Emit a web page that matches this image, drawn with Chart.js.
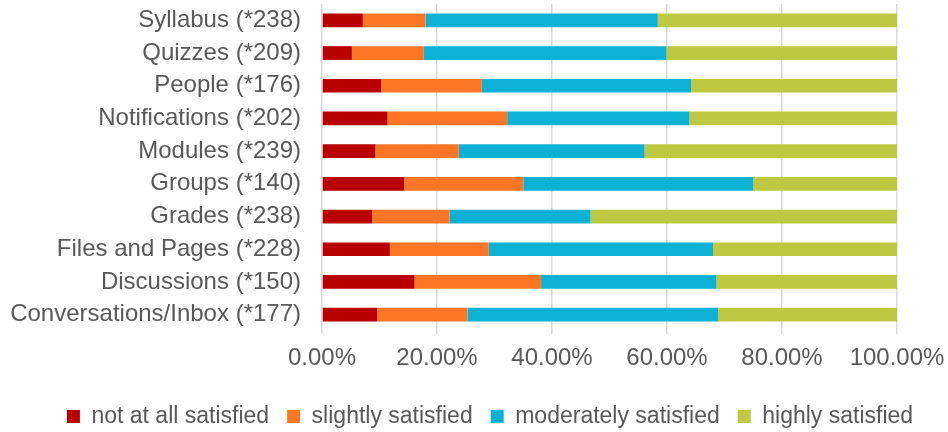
<!DOCTYPE html>
<html>
<head>
<meta charset="utf-8">
<script src="https://cdn.jsdelivr.net/npm/chart.js@4/dist/chart.umd.min.js"></script>
<style>
  html, body { margin: 0; padding: 0; background: #ffffff; }
  #wrap { width: 948px; height: 432px; position: relative; }
</style>
</head>
<body>
<div id="wrap"><canvas id="c"></canvas></div>
<script>
const categories = [
  "Syllabus (*238)", "Quizzes (*209)", "People (*176)", "Notifications (*202)",
  "Modules (*239)", "Groups (*140)", "Grades (*238)", "Files and Pages (*228)",
  "Discussions (*150)", "Conversations/Inbox (*177)"
];
const seriesNames = ["not at all satisfied", "slightly satisfied", "moderately satisfied", "highly satisfied"];
const notAtAll   = [7.1, 5.2, 10.3, 11.4, 9.3, 14.3, 8.7, 11.8, 16.1, 9.6];
const slightly   = [10.9, 12.5, 17.5, 20.8, 14.5, 20.7, 13.5, 17.2, 22.0, 15.7];
const moderately = [40.4, 42.2, 36.4, 31.7, 32.3, 40.0, 24.5, 39.0, 30.5, 43.6];
const highly     = [41.6, 40.1, 35.8, 36.1, 43.9, 25.0, 53.3, 32.0, 31.4, 31.1];
const xTicks = [0, 20, 40, 60, 80, 100];

const colors = ["#b80000", "#fd7626", "#0db1d3", "#bfc842"];
const seriesData = [notAtAll, slightly, moderately, highly];

const FONT = "'Liberation Sans', Arial, sans-serif";
const TEXT = "#595959";

const legendShift = {
  id: "legendShift",
  afterLayout(chart) {
    const lg = chart.legend;
    if (lg) { lg.left += 16; lg.right += 16; lg.top += 10; lg.bottom += 10; }
  }
};

new Chart(document.getElementById("c"), {
  type: "bar",
  data: {
    labels: categories,
    datasets: seriesNames.map((n, i) => ({
      label: n,
      data: seriesData[i],
      backgroundColor: colors[i],
      borderWidth: 0,
      barPercentage: 1.0,
      categoryPercentage: 0.42
    }))
  },
  options: {
    indexAxis: "y",
    responsive: true,
    maintainAspectRatio: false,
    animation: false,
    layout: { padding: { left: 0, right: 0, top: 4, bottom: 4 } },
    scales: {
      x: {
        stacked: true,
        min: 0, max: 100,
        afterBuildTicks: (s) => { s.ticks = xTicks.map(v => ({ value: v })); },
        ticks: {
          callback: (v) => v.toFixed(2) + "%",
          color: TEXT,
          font: { family: FONT, size: 24 },
          padding: 10,
          maxRotation: 0,
          autoSkip: false
        },
        grid: { color: "#d9d9d9", lineWidth: 1.5, drawTicks: true, tickLength: 3 },
        border: { display: false },
        afterFit: (s) => { s.height = 46; s.paddingLeft = 0; s.paddingRight = 51; }
      },
      y: {
        stacked: true,
        ticks: {
          color: TEXT,
          font: { family: FONT, size: 24 },
          padding: 21,
          autoSkip: false
        },
        grid: { display: false, drawTicks: false },
        border: { display: false },
        afterFit: (s) => { s.width = 322; s.paddingTop = 0; s.paddingBottom = 0; }
      }
    },
    plugins: {
      legend: {
        position: "bottom",
        labels: {
          color: TEXT,
          font: { family: FONT, size: 23 },
          boxWidth: 13,
          boxHeight: 13,
          padding: 18
        }
      },
      tooltip: { enabled: false }
    }
  },
  plugins: [legendShift]
});
</script>
</body>
</html>
